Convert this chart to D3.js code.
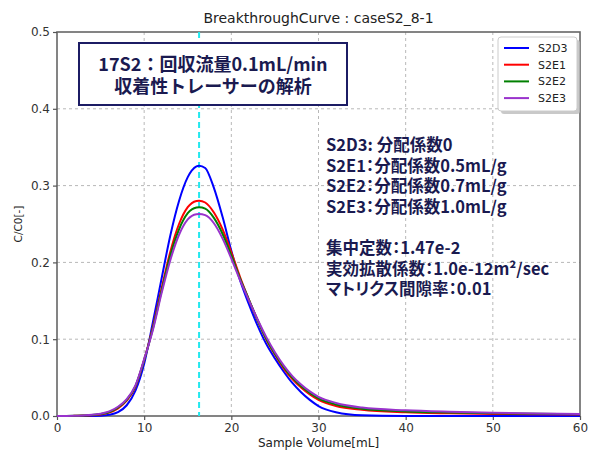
<!DOCTYPE html>
<html>
<head>
<meta charset="utf-8">
<script src="https://cdn.jsdelivr.net/npm/d3@7"></script>
<style>
  html, body { margin: 0; padding: 0; background: #fff; }
  svg { display: block; }
</style>
</head>
<body>
<svg id="chart" width="591" height="454"></svg>
<script>
// Sample volume (mL) at which each curve is sampled
const volume = [0,1,2,3,4,5,6,7,8,9,10,11,12,13,14,15,16,16.3,17,18,19,20,21,22,23,24,25,26,27,28,29,30,32,35,40,45,50,55,60];

// C/C0 for each case
const s2d3 = [0,0,0,0,0.0001,0.0004,0.0015,0.005,0.014,0.033,0.068,0.122,0.179,0.235,0.280,0.311,0.325,0.326,0.323,0.297,0.259,0.215,0.177,0.146,0.118,0.094,0.075,0.058,0.043,0.031,0.021,0.013,0.005,0.001,0.0001,0,0,0,0];
const s2e1 = [0,0,0.0002,0.0005,0.001,0.002,0.0045,0.010,0.020,0.038,0.073,0.116,0.166,0.214,0.250,0.272,0.2800,0.2804,0.278,0.265,0.243,0.213,0.181,0.152,0.125,0.100,0.080,0.062,0.048,0.037,0.028,0.021,0.013,0.008,0.0048,0.0035,0.0027,0.0022,0.0018];
const s2e2 = [0,0,0.0002,0.0006,0.0012,0.0025,0.005,0.011,0.021,0.039,0.073,0.114,0.163,0.209,0.243,0.264,0.2715,0.2718,0.270,0.258,0.237,0.209,0.179,0.152,0.125,0.101,0.081,0.064,0.050,0.039,0.030,0.023,0.015,0.0095,0.006,0.0045,0.0035,0.0028,0.0023];
const s2e3 = [0,0.0001,0.0003,0.0008,0.0015,0.003,0.006,0.012,0.022,0.040,0.074,0.112,0.160,0.203,0.236,0.256,0.2628,0.263,0.2615,0.251,0.231,0.205,0.177,0.151,0.126,0.103,0.083,0.066,0.052,0.041,0.032,0.025,0.017,0.011,0.0074,0.0055,0.0042,0.0033,0.0027];

const seriesNames = ["S2D3", "S2E1", "S2E2", "S2E3"];
const seriesValues = [s2d3, s2e1, s2e2, s2e3];
const seriesColors = ["#0000ff", "#ff0000", "#008000", "#9932cc"];

const xTicks = [0, 10, 20, 30, 40, 50, 60];
const yTicks = [0.0, 0.1, 0.2, 0.3, 0.4, 0.5];
const peakVolume = 16.3;

const titleText = "BreakthroughCurve : caseS2_8-1";
const xLabel = "Sample Volume[mL]";
const yLabel = "C/C0[-]";
const boxLines = ["17S2：回収流量0.1mL/min", "収着性トレーサーの解析"];
const noteLines = [
  "S2D3: 分配係数0",
  "S2E1：分配係数0.5mL/g",
  "S2E2：分配係数0.7mL/g",
  "S2E3：分配係数1.0mL/g",
  "",
  "集中定数：1.47e-2",
  "実効拡散係数：1.0e-12m²/sec",
  "マトリクス間隙率：0.01"
];

const W = 591, H = 454;
const margin = { left: 57, right: 11, top: 32, bottom: 38 };
const iw = W - margin.left - margin.right;
const ih = H - margin.top - margin.bottom;

const svg = d3.select("#chart");
const g = svg.append("g").attr("transform", `translate(${margin.left},${margin.top})`);

const x = d3.scaleLinear().domain([0, 60]).range([0, iw]);
const y = d3.scaleLinear().domain([0, 0.5]).range([ih, 0]);

const sansFont = "'DejaVu Sans', sans-serif";
const jpFont = "'Noto Sans CJK JP', 'Noto Sans', sans-serif";

// grid
g.append("g").selectAll("line").data(xTicks.filter(d => d > 0 && d < 60)).join("line")
  .attr("x1", d => x(d)).attr("x2", d => x(d)).attr("y1", 0).attr("y2", ih)
  .attr("stroke", "#b8b8b8").attr("stroke-width", 1).attr("stroke-dasharray", "3,3");
g.append("g").selectAll("line").data(yTicks.filter(d => d > 0 && d < 0.5)).join("line")
  .attr("x1", 0).attr("x2", iw).attr("y1", d => y(d)).attr("y2", d => y(d))
  .attr("stroke", "#b8b8b8").attr("stroke-width", 1).attr("stroke-dasharray", "3,3");

// frame
g.append("rect").attr("x", 0).attr("y", 0).attr("width", iw).attr("height", ih)
  .attr("fill", "none").attr("stroke", "#666").attr("stroke-width", 1.6);

// axes
const xAxis = g.append("g").attr("transform", `translate(0,${ih})`)
  .call(d3.axisBottom(x).tickValues(xTicks).tickFormat(d3.format("d")).tickSize(4).tickPadding(3));
const yAxis = g.append("g")
  .call(d3.axisLeft(y).tickValues(yTicks).tickFormat(d3.format(".1f")).tickSize(4).tickPadding(3));
[xAxis, yAxis].forEach(a => {
  a.select(".domain").remove();
  a.selectAll(".tick line").attr("stroke", "#555").attr("stroke-width", 1.2);
  a.selectAll(".tick text").attr("fill", "#333").style("font-family", sansFont).style("font-size", "12px");
});

// peak marker
g.append("line")
  .attr("x1", x(peakVolume)).attr("x2", x(peakVolume)).attr("y1", 0).attr("y2", ih)
  .attr("stroke", "#22e8ee").attr("stroke-width", 2).attr("stroke-dasharray", "6,4");

// curves
const line = d3.line().x(d => x(d[0])).y(d => y(d[1])).curve(d3.curveMonotoneX);
seriesValues.forEach((vals, i) => {
  g.append("path")
    .datum(volume.map((v, k) => [v, vals[k]]))
    .attr("d", line)
    .attr("fill", "none")
    .attr("stroke", seriesColors[i])
    .attr("stroke-width", 2);
});

// title and axis labels
svg.append("text").attr("x", margin.left + iw / 2).attr("y", 23)
  .attr("text-anchor", "middle").attr("fill", "#222")
  .style("font-family", sansFont).style("font-size", "14px").text(titleText);
svg.append("text").attr("x", margin.left + iw / 2).attr("y", 447)
  .attr("text-anchor", "middle").attr("fill", "#222")
  .style("font-family", sansFont).style("font-size", "12px").text(xLabel);
svg.append("text").attr("transform", `translate(22,${margin.top + ih / 2}) rotate(-90)`)
  .attr("text-anchor", "middle").attr("fill", "#222")
  .style("font-family", sansFont).style("font-size", "10.5px").text(yLabel);

// legend
const lg = svg.append("g").attr("transform", "translate(498,37)");
lg.append("rect").attr("x", 3).attr("y", 3).attr("width", 79).attr("height", 74).attr("rx", 3)
  .attr("fill", "#bbb").attr("opacity", 0.8);
lg.append("rect").attr("x", 0).attr("y", 0).attr("width", 79).attr("height", 74).attr("rx", 3)
  .attr("fill", "#fff").attr("stroke", "#ccc").attr("stroke-width", 1);
seriesNames.forEach((name, i) => {
  const yy = 11 + i * 16.7;
  lg.append("line").attr("x1", 6).attr("x2", 31).attr("y1", yy).attr("y2", yy)
    .attr("stroke", seriesColors[i]).attr("stroke-width", 2);
  lg.append("text").attr("x", 40).attr("y", yy + 4).attr("fill", "#222")
    .style("font-family", sansFont).style("font-size", "11px").text(name);
});

// caption box
const bx = svg.append("g");
bx.append("rect").attr("x", 79).attr("y", 43).attr("width", 268).attr("height", 62)
  .attr("fill", "#fff").attr("stroke", "#1c1c64").attr("stroke-width", 2);
boxLines.forEach((t, i) => {
  bx.append("text").attr("x", 213).attr("y", 70.5 + i * 22.5)
    .attr("text-anchor", "middle").attr("fill", "#1a1a50")
    .style("font-family", jpFont).style("font-weight", "bold").style("font-size", "18px").text(t);
});

// parameter notes (proportional kana/punctuation)
const notes = svg.append("g");
noteLines.forEach((t, i) => {
  if (!t) return;
  notes.append("text").attr("x", 326).attr("y", 151 + i * 20.6).attr("fill", "#1a1a50")
    .style("font-family", jpFont).style("font-weight", "bold").style("font-size", "16.5px")
    .style("font-feature-settings", "'palt' 1")
    .text(t);
});
</script>
</body>
</html>
